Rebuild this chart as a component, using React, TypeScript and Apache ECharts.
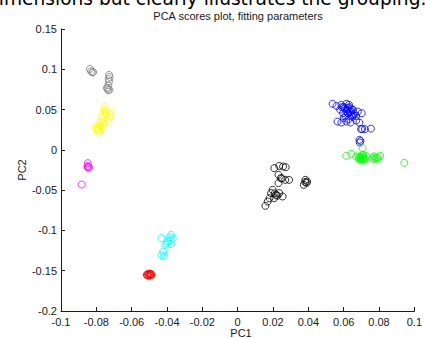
import React, { useEffect, useRef } from "react";
import * as echarts from "echarts";

const xTicks = [-0.1, -0.08, -0.06, -0.04, -0.02, 0, 0.02, 0.04, 0.06, 0.08, 0.1];
const yTicks = [-0.2, -0.15, -0.1, -0.05, 0, 0.05, 0.1, 0.15];

const grayPts = [
  [-0.0836, 0.1004], [-0.0830, 0.0975], [-0.0822, 0.0960], [-0.0818, 0.0966],
  [-0.0728, 0.0930], [-0.0725, 0.0905], [-0.0730, 0.0880], [-0.0728, 0.0850],
  [-0.0732, 0.0800], [-0.0737, 0.0760], [-0.0733, 0.0740], [-0.0726, 0.0745],
  [-0.0740, 0.0770],
];
const yellowPts = [
  [-0.0752, 0.0537], [-0.0756, 0.0496], [-0.0746, 0.0475], [-0.0718, 0.0475],
  [-0.0724, 0.0434], [-0.0765, 0.0434], [-0.0728, 0.0393], [-0.0768, 0.0393],
  [-0.0774, 0.0351], [-0.0732, 0.0351], [-0.0783, 0.0310], [-0.0793, 0.0269],
  [-0.0783, 0.0227], [-0.0802, 0.0281], [-0.0760, 0.0320], [-0.0770, 0.0280],
  [-0.0790, 0.0250], [-0.0748, 0.0450], [-0.0778, 0.0300], [-0.0795, 0.0240],
];
const magentaPts = [
  [-0.0848, -0.0165], [-0.0850, -0.0200], [-0.0845, -0.0210], [-0.0842, -0.0220],
  [-0.0848, -0.0215], [-0.0883, -0.0430],
];
const cyanPts = [
  [-0.0376, -0.1055], [-0.0385, -0.1083], [-0.0367, -0.1096], [-0.0432, -0.1096],
  [-0.0394, -0.1137], [-0.0376, -0.1170], [-0.0409, -0.1179], [-0.0422, -0.1262],
  [-0.0432, -0.1307], [-0.0417, -0.1315], [-0.0380, -0.1120], [-0.0400, -0.1160],
];
const redPts = [
  [-0.0515, -0.1550], [-0.0508, -0.1540], [-0.0500, -0.1535], [-0.0492, -0.1540],
  [-0.0488, -0.1550], [-0.0495, -0.1560], [-0.0505, -0.1562], [-0.0512, -0.1558],
  [-0.0500, -0.1550], [-0.0490, -0.1545],
];
const bluePts = [
  [0.0537, 0.0571], [0.0559, 0.0546], [0.0587, 0.0558], [0.0615, 0.0571],
  [0.0606, 0.0517], [0.0633, 0.0530], [0.0652, 0.0496], [0.0680, 0.0475],
  [0.0702, 0.0455], [0.0624, 0.0455], [0.0596, 0.0455], [0.0643, 0.0434],
  [0.0565, 0.0351], [0.0587, 0.0339], [0.0615, 0.0351], [0.0639, 0.0339],
  [0.0671, 0.0364], [0.0689, 0.0339], [0.0628, 0.0381], [0.0698, 0.0257],
  [0.0720, 0.0257], [0.0754, 0.0264], [0.0689, 0.0124], [0.0691, 0.0090],
  [0.0600, 0.0530], [0.0620, 0.0500], [0.0640, 0.0480], [0.0610, 0.0420],
  [0.0650, 0.0410], [0.0580, 0.0500], [0.0660, 0.0450], [0.0630, 0.0560],
  [0.0615, 0.0480], [0.0635, 0.0465], [0.0655, 0.0430], [0.0600, 0.0395],
  [0.0625, 0.0520], [0.0645, 0.0505], [0.0590, 0.0530], [0.0670, 0.0420],
  [0.0705, 0.0260], [0.0695, 0.0110],
];
const greenPts = [
  [0.0615, -0.0074], [0.0643, -0.0050], [0.0671, -0.0083], [0.0698, -0.0103],
  [0.0707, 0.0021], [0.0726, -0.0074], [0.0763, -0.0103], [0.0781, -0.0091],
  [0.0806, -0.0074], [0.0689, -0.0124], [0.0707, -0.0133], [0.0943, -0.0161],
  [0.0700, -0.0090], [0.0715, -0.0110], [0.0690, -0.0080], [0.0720, -0.0120],
  [0.0790, -0.0110], [0.0770, -0.0080], [0.0705, -0.0070], [0.0695, -0.0100],
  [0.0712, -0.0095], [0.0685, -0.0105], [0.0700, -0.0120], [0.0710, -0.0060],
  [0.0775, -0.0115], [0.0795, -0.0095],
];
const blackPts = [
  [0.0207, -0.0227], [0.0235, -0.0199], [0.0257, -0.0207], [0.0272, -0.0215],
  [0.0231, -0.0310], [0.0244, -0.0351], [0.0269, -0.0372], [0.0291, -0.0372],
  [0.0231, -0.0413], [0.0383, -0.0372], [0.0393, -0.0393], [0.0374, -0.0434],
  [0.0198, -0.0496], [0.0189, -0.0537], [0.0217, -0.0558], [0.0254, -0.0579],
  [0.0180, -0.0600], [0.0170, -0.0641], [0.0157, -0.0695], [0.0235, -0.0537],
  [0.0207, -0.0600], [0.0390, -0.0410], [0.0210, -0.0540], [0.0225, -0.0570],
  [0.0250, -0.0355], [0.0382, -0.0400],
];

const groups = [
  { name: "gray", color: "#808080", data: grayPts },
  { name: "yellow", color: "#ffff00", data: yellowPts },
  { name: "magenta", color: "#ff00ff", data: magentaPts },
  { name: "cyan", color: "#00ffff", data: cyanPts },
  { name: "red", color: "#ff0000", data: redPts },
  { name: "blue", color: "#0000ff", data: bluePts },
  { name: "green", color: "#00ff00", data: greenPts },
  { name: "black", color: "#000000", data: blackPts },
];

const fmt = (v: number) => String(+v.toFixed(2));

export default function App() {
  const ref = useRef<HTMLDivElement>(null);
  useEffect(() => {
    const chart = echarts.init(ref.current!, null, { renderer: "svg" });
    const axisCommon = {
      axisLine: { show: true, onZero: false, lineStyle: { color: "#1a1a1a", width: 1 } },
      axisTick: { show: true, inside: true, length: 4, lineStyle: { color: "#1a1a1a" } },
      splitLine: { show: false },
      axisLabel: {
        color: "#1a1a1a",
        fontFamily: "Liberation Sans, Arial, sans-serif",
        fontSize: 11,
        formatter: fmt,
      },
    };
    chart.setOption({
      animation: false,
      grid: { left: 61, right: 4, top: 29, bottom: 27, containLabel: false },
      xAxis: {
        type: "value",
        min: xTicks[0],
        max: xTicks[xTicks.length - 1],
        interval: 0.02,
        ...axisCommon,
        axisLabel: { ...axisCommon.axisLabel, margin: 5, showMaxLabel: true, showMinLabel: true },
      },
      yAxis: {
        type: "value",
        min: yTicks[0],
        max: yTicks[yTicks.length - 1],
        interval: 0.05,
        ...axisCommon,
        axisLabel: { ...axisCommon.axisLabel, margin: 4, showMaxLabel: true, showMinLabel: true },
      },
      graphic: [
        {
          type: "text",
          x: -13,
          y: -2,
          style: {
            text: "dimensions but clearly illustrates the grouping.",
            fontFamily: "DejaVu Sans",
            fontSize: 18.6,
            fill: "#000",
            align: "left",
            verticalAlign: "middle",
          },
        },
        {
          type: "text",
          x: 238,
          y: 16,
          style: {
            text: "PCA scores plot, fitting parameters",
            fontFamily: "Liberation Sans, Arial, sans-serif",
            fontSize: 11,
            fill: "#1a1a1a",
            align: "center",
            verticalAlign: "middle",
          },
        },
        {
          type: "text",
          x: 241,
          y: 333,
          style: {
            text: "PC1",
            fontFamily: "Liberation Sans, Arial, sans-serif",
            fontSize: 11,
            fill: "#1a1a1a",
            align: "center",
            verticalAlign: "middle",
          },
        },
        {
          type: "text",
          x: 22,
          y: 170,
          rotation: Math.PI / 2,
          style: {
            text: "PC2",
            fontFamily: "Liberation Sans, Arial, sans-serif",
            fontSize: 11,
            fill: "#1a1a1a",
            align: "center",
            verticalAlign: "middle",
          },
        },
      ],
      series: groups.map((g) => ({
        name: g.name,
        type: "scatter",
        data: g.data,
        symbol: "circle",
        symbolSize: 7,
        itemStyle: { color: "transparent", borderColor: g.color, borderWidth: 1 },
        emphasis: { disabled: true },
      })),
    });
    return () => chart.dispose();
  }, []);
  return (
    <div
      ref={ref}
      style={{ position: "fixed", left: 0, top: 0, width: 425, height: 338, background: "#fff" }}
    />
  );
}
